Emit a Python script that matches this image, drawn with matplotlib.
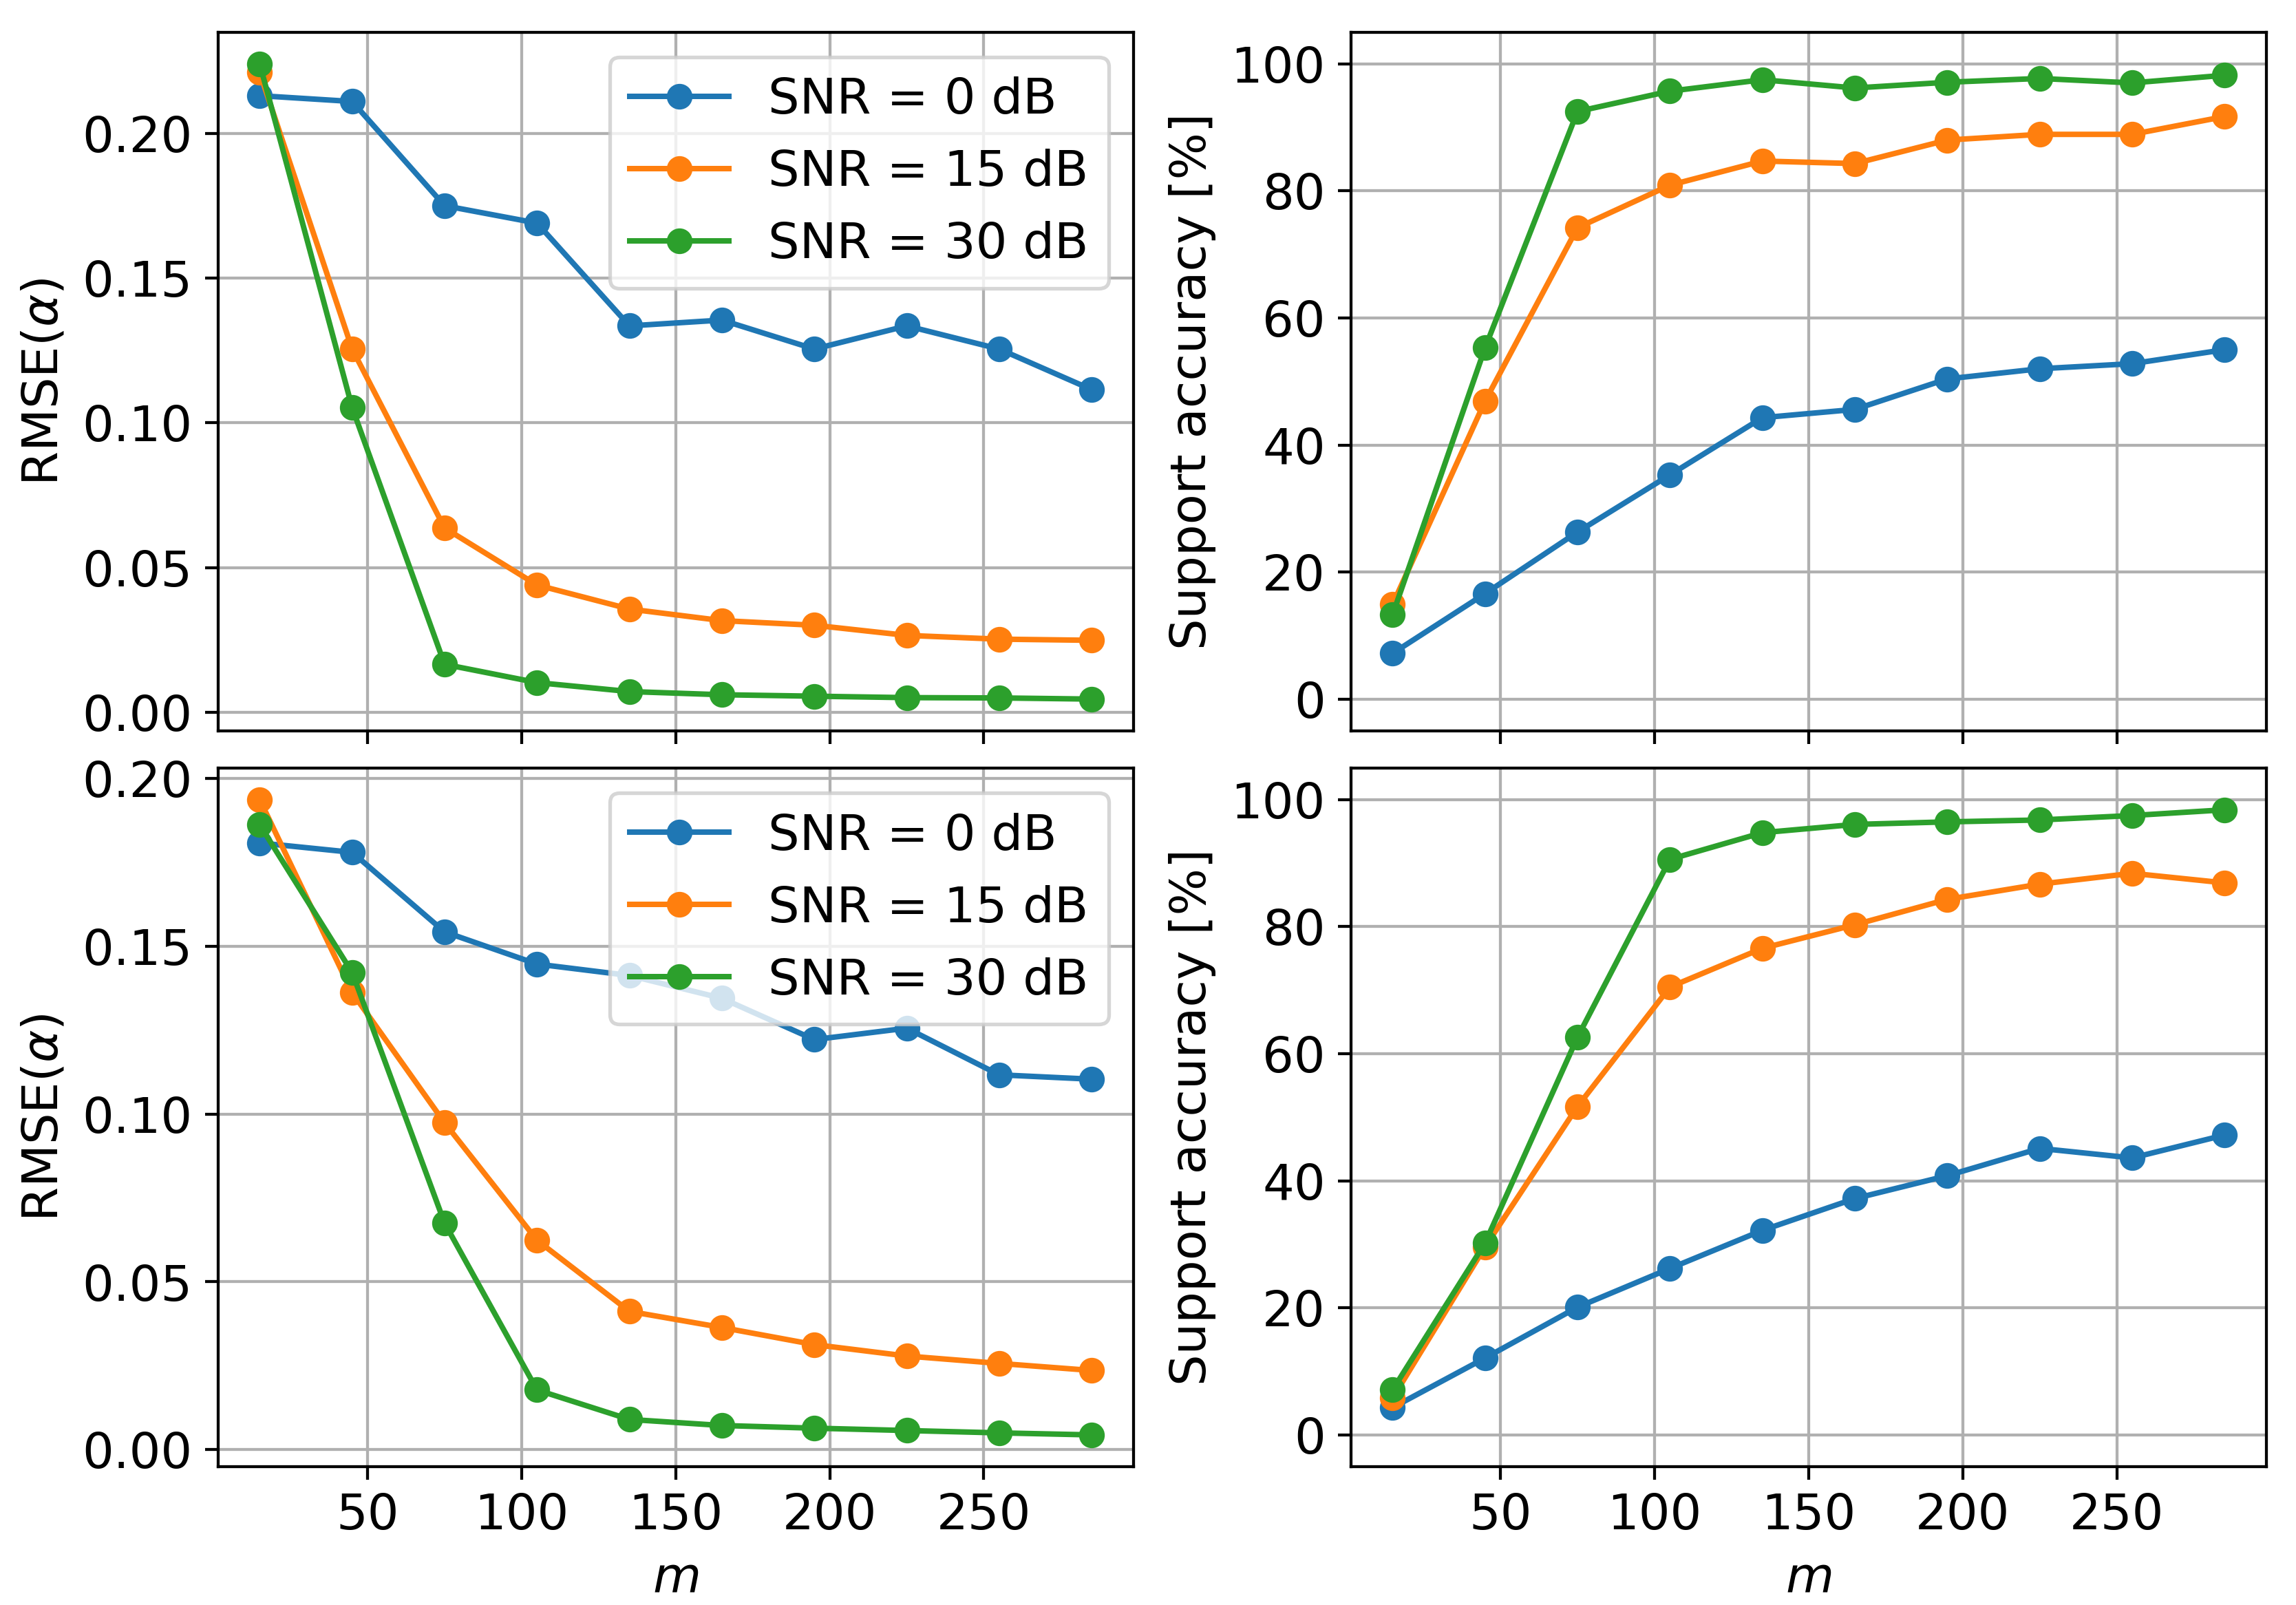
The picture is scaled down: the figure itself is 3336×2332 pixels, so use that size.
import matplotlib
matplotlib.use("Agg")
import matplotlib.pyplot as plt

# number of measurements
m = [15, 45, 75, 105, 135, 165, 195, 225, 255, 285]
snr_labels = ["SNR = 0 dB", "SNR = 15 dB", "SNR = 30 dB"]

# top row
rmse_top_0 = [0.2130, 0.2110, 0.1750, 0.1690, 0.1335, 0.1355, 0.1255, 0.1335, 0.1255, 0.1115]
rmse_top_15 = [0.2210, 0.1255, 0.0637, 0.0440, 0.0357, 0.0317, 0.0301, 0.0266, 0.0253, 0.0249]
rmse_top_30 = [0.2240, 0.1053, 0.0166, 0.0103, 0.0072, 0.0061, 0.0056, 0.0051, 0.0050, 0.0046]
acc_top_0 = [7.2, 16.6, 26.3, 35.3, 44.3, 45.6, 50.4, 52.0, 52.8, 55.0]
acc_top_15 = [14.9, 46.9, 74.2, 80.9, 84.7, 84.3, 88.0, 88.9, 88.9, 91.7]
acc_top_30 = [13.3, 55.3, 92.5, 95.7, 97.5, 96.2, 97.1, 97.7, 97.0, 98.2]

# bottom row
rmse_bot_0 = [0.1808, 0.1780, 0.1543, 0.1447, 0.1413, 0.1345, 0.1222, 0.1256, 0.1117, 0.1104]
rmse_bot_15 = [0.1937, 0.1362, 0.0974, 0.0624, 0.0412, 0.0364, 0.0313, 0.0279, 0.0257, 0.0236]
rmse_bot_30 = [0.1862, 0.1422, 0.0675, 0.0178, 0.0090, 0.0072, 0.0064, 0.0057, 0.0050, 0.0044]
acc_bot_0 = [4.3, 12.1, 20.1, 26.2, 32.2, 37.2, 40.8, 45.1, 43.6, 47.2]
acc_bot_15 = [5.8, 29.6, 51.7, 70.5, 76.6, 80.3, 84.3, 86.7, 88.4, 86.9]
acc_bot_30 = [7.1, 30.2, 62.6, 90.6, 94.8, 96.1, 96.5, 96.8, 97.5, 98.4]

plt.rcParams['font.size'] = 13.5

fig, axes = plt.subplots(2, 2, sharex=True, figsize=(8.6875, 6.073))
fig.subplots_adjust(left=0.095, right=0.987, top=0.980, bottom=0.0862,
                    wspace=0.238, hspace=0.053)

rows = [
    ([rmse_top_0, rmse_top_15, rmse_top_30], [acc_top_0, acc_top_15, acc_top_30]),
    ([rmse_bot_0, rmse_bot_15, rmse_bot_30], [acc_bot_0, acc_bot_15, acc_bot_30]),
]

for r, (rmse, acc) in enumerate(rows):
    ax_l = axes[r][0]
    ax_r = axes[r][1]
    for y, lab in zip(rmse, snr_labels):
        ax_l.plot(m, y, marker='o', label=lab)
    for y, lab in zip(acc, snr_labels):
        ax_r.plot(m, y, marker='o', label=lab)
    ax_l.set_ylabel(r'RMSE($\alpha$)')
    ax_r.set_ylabel('Support accuracy [%]')
    ax_r.set_ylim(-5, 105)
    ax_l.legend(loc='upper right')
    ax_l.grid(True)
    ax_r.grid(True)

axes[0][0].set_yticks([0.0, 0.05, 0.10, 0.15, 0.20])
axes[1][0].set_yticks([0.0, 0.05, 0.10, 0.15, 0.20])
axes[1][0].set_xlabel('$m$')
axes[1][1].set_xlabel('$m$')
axes[1][0].set_xticks([50, 100, 150, 200, 250])

fig.savefig('out.png', dpi=384)
